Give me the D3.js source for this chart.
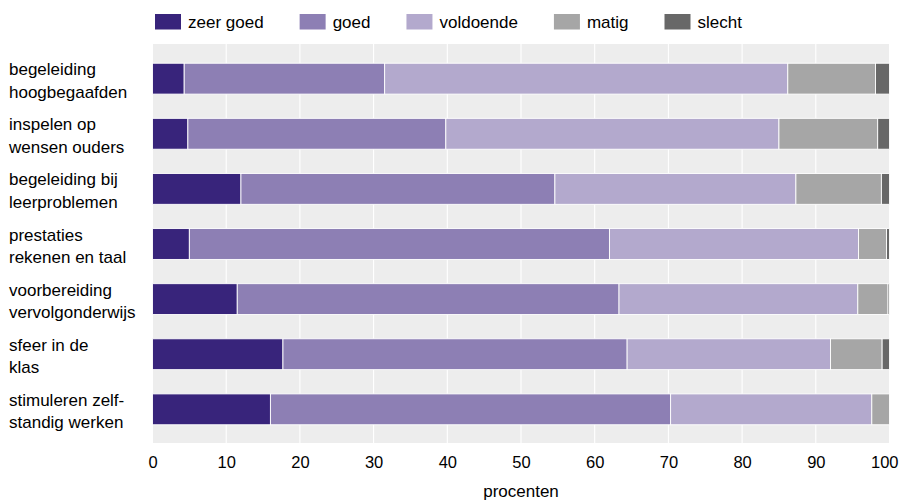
<!DOCTYPE html>
<html>
<head>
<meta charset="utf-8">
<script src="https://cdn.jsdelivr.net/npm/d3@7"></script>
<style>
  body { margin: 0; background: #fff; }
  text { font-family: "Liberation Sans", Arial, sans-serif; fill: #000; }
</style>
</head>
<body>
<div id="chart"></div>
<script>
// categories, top to bottom
const categories = [
  ["begeleiding", "hoogbegaafden"],
  ["inspelen op", "wensen ouders"],
  ["begeleiding bij", "leerproblemen"],
  ["prestaties", "rekenen en taal"],
  ["voorbereiding", "vervolgonderwijs"],
  ["sfeer in de", "klas"],
  ["stimuleren zelf-", "standig werken"]
]
const answers = ["zeer goed", "goed", "voldoende", "matig", "slecht"]
const colors = ["#38247b", "#8d7fb4", "#b3a9cd", "#a6a6a6", "#686868"]

// percentages per answer, same order as categories
const zeerGoed  = [4.3, 4.8, 12.0, 5.0, 11.5, 17.7, 16.0]
const goed      = [27.2, 35.0, 42.6, 57.0, 51.8, 46.7, 54.3]
const voldoende = [54.7, 45.2, 32.7, 33.8, 32.4, 27.6, 27.3]
const matig     = [11.9, 13.4, 11.6, 3.8, 4.1, 7.0, 2.4]
const slecht    = [1.9, 1.6, 1.1, 0.4, 0.2, 1.0, 0.0]

const xTicks = [0, 10, 20, 30, 40, 50, 60, 70, 80, 90, 100]
const xTitle = "procenten"

;(function () {
  const width = 901, height = 502
  const panel = { left: 152.5, right: 889.5, top: 44, bottom: 443 }

  const series = [zeerGoed, goed, voldoende, matig, slecht]
  const rows = categories.map(function (c, i) {
    const row = { key: c.join(" ") }
    answers.forEach(function (a, j) { row[a] = series[j][i] })
    return row
  })

  const x = d3.scaleLinear().domain([0, 100]).range([panel.left, panel.right])
  const y = d3.scaleBand()
    .domain(rows.map(function (d) { return d.key }))
    .range([panel.top + 0.5, panel.bottom + 0.5])
    .paddingInner(0.44)
    .paddingOuter(0.34)

  const svg = d3.select("#chart")
    .append("svg")
    .attr("width", width)
    .attr("height", height)

  // grey panel + white vertical gridlines
  svg.append("rect")
    .attr("x", panel.left)
    .attr("y", panel.top)
    .attr("width", panel.right - panel.left)
    .attr("height", panel.bottom - panel.top)
    .attr("fill", "#ededed")

  svg.append("g")
    .selectAll("line")
    .data(xTicks)
    .enter().append("line")
    .attr("x1", function (d) { return x(d) })
    .attr("x2", function (d) { return x(d) })
    .attr("y1", panel.top)
    .attr("y2", panel.bottom)
    .attr("stroke", "#fff")
    .attr("stroke-width", 1.1)

  const stack = d3.stack().keys(answers)(rows)

  svg.append("g")
    .selectAll("g")
    .data(stack)
    .enter().append("g")
    .attr("fill", function (d, i) { return colors[i] })
    .selectAll("rect")
    .data(function (d) { return d.filter(function (s) { return s[1] - s[0] > 0 }) })
    .enter().append("rect")
    .attr("x", function (d) { return x(d[0]) })
    .attr("y", function (d) { return y(d.data.key) })
    .attr("width", function (d) { return x(d[1]) - x(d[0]) })
    .attr("height", y.bandwidth())
    .attr("stroke", "#fff")
    .attr("stroke-width", 0.9)

  // category labels, two lines each
  const labels = svg.append("g")
    .selectAll("text")
    .data(categories)
    .enter().append("text")
    .attr("font-size", "17px")
    .attr("transform", function (d, i) {
      return "translate(9," + (y(rows[i].key) + y.bandwidth() / 2) + ")"
    })
  labels.append("tspan").attr("x", 0).attr("y", -3.5).text(function (d) { return d[0] })
  labels.append("tspan").attr("x", 0).attr("y", 19).text(function (d) { return d[1] })

  // x axis labels (no tick marks)
  const axis = svg.append("g")
    .attr("transform", "translate(0," + panel.bottom + ")")
    .call(d3.axisBottom(x).tickValues(xTicks).tickSize(0).tickPadding(10))
  axis.select(".domain").remove()
  axis.selectAll("text")
    .attr("font-size", "16.5px")
    .attr("font-family", "Liberation Sans, Arial, sans-serif")
    .attr("fill", "#000")
    .attr("dy", "0.9em")

  // keep the last label inside the window
  axis.selectAll("text").each(function (d) {
    const w = this.getComputedTextLength()
    const over = x(d) + w / 2 - (width - 3)
    if (over > 0) d3.select(this).attr("x", -over)
  })

  svg.append("text")
    .attr("x", (panel.left + panel.right) / 2)
    .attr("y", 497)
    .attr("text-anchor", "middle")
    .attr("font-size", "17px")
    .text(xTitle)

  // legend across the top
  const legend = svg.append("g")
  let lx = 155
  answers.forEach(function (a, i) {
    legend.append("rect")
      .attr("x", lx)
      .attr("y", 14)
      .attr("width", 26)
      .attr("height", 15.5)
      .attr("fill", colors[i])
    const t = legend.append("text")
      .attr("x", lx + 33)
      .attr("y", 27.5)
      .attr("font-size", "17px")
      .text(a)
    lx = lx + 33 + t.node().getComputedTextLength() + 36
  })
})()
</script>
</body>
</html>
